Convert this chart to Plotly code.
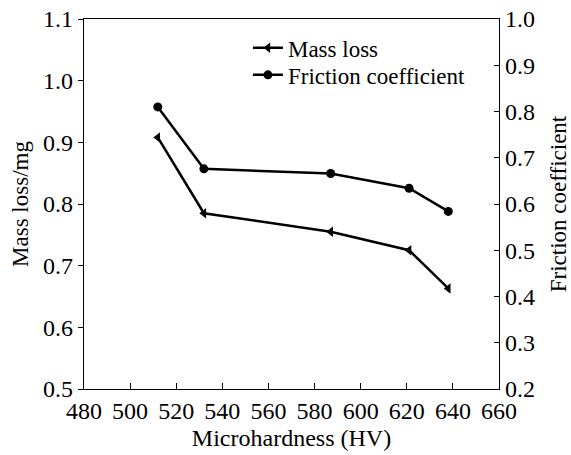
import plotly.graph_objects as go

hardness = [512, 532, 587, 621, 638]
mass_loss = [0.908, 0.785, 0.755, 0.725, 0.663]
friction = [0.81, 0.676, 0.666, 0.634, 0.584]

FONT = "Liberation Serif, Times New Roman, serif"

fig = go.Figure()
fig.add_trace(go.Scatter(
    x=hardness, y=mass_loss, name="Mass loss", mode="lines+markers",
    legend="legend",
    line=dict(color="black", width=2.5),
    marker=dict(symbol="triangle-left", size=9, color="black"),
))
fig.add_trace(go.Scatter(
    x=hardness, y=friction, name="Friction coefficient", mode="lines+markers",
    yaxis="y2", legend="legend2",
    line=dict(color="black", width=2.5),
    marker=dict(symbol="circle", size=9, color="black"),
))

leg_common = dict(xanchor="left", yanchor="middle", bgcolor="rgba(0,0,0,0)",
                  font=dict(size=23), itemwidth=30)

fig.update_layout(
    width=571, height=455,
    margin=dict(l=84, r=72, t=19, b=66, autoexpand=False),
    paper_bgcolor="white", plot_bgcolor="white",
    font=dict(family=FONT, size=24, color="black"),
    showlegend=True,
    legend=dict(x=0.395, y=0.922, **leg_common),
    legend2=dict(x=0.395, y=0.849, **leg_common),
    xaxis=dict(range=[480, 660], dtick=20, tick0=480, automargin=False,
               showline=True, linecolor="black", linewidth=1.2, mirror=True,
               ticks="inside", ticklen=6, tickcolor="black",
               showgrid=False, zeroline=False,
               title=dict(text="Microhardness (HV)", font=dict(size=24), standoff=6)),
    yaxis=dict(range=[0.5, 1.1], dtick=0.1, tick0=0.5, tickformat=".1f", automargin=False,
               showline=True, linecolor="black", linewidth=1.2,
               ticks="outside", ticklen=5, tickcolor="black",
               showgrid=False, zeroline=False,
               title=dict(text="Mass loss/mg", font=dict(size=23), standoff=8)),
    yaxis2=dict(range=[0.2, 1.0], dtick=0.1, tick0=0.2, tickformat=".1f", automargin=False,
                overlaying="y", side="right",
                showline=True, linecolor="black", linewidth=1.2,
                ticks="inside", ticklen=5, tickcolor="black",
                showgrid=False, zeroline=False,
                title=dict(text="Friction coefficient", font=dict(size=23), standoff=22)),
)

fig.write_html("out.html", config={"displayModeBar": False},
               post_script="document.body.style.margin='0';document.body.style.overflow='hidden';")
